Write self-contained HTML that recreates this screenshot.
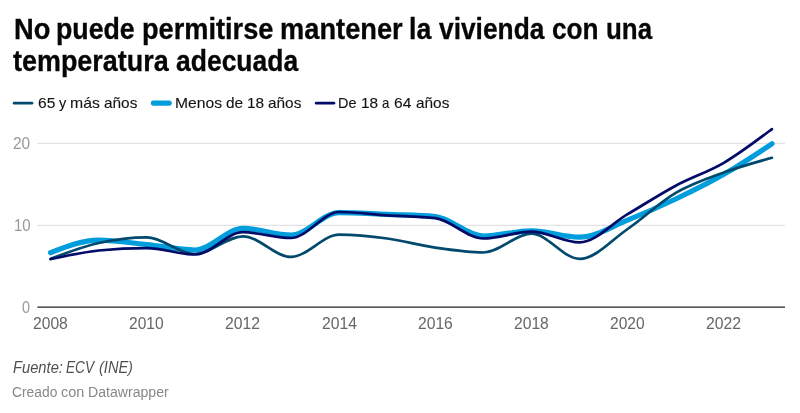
<!DOCTYPE html>
<html lang="es">
<head>
<meta charset="utf-8">
<title>No puede permitirse mantener la vivienda con una temperatura adecuada</title>
<style>
html,body{margin:0;padding:0;background:#fff;}
body{width:800px;height:413px;position:relative;overflow:hidden;font-family:"Liberation Sans",sans-serif;color:#181818;}
.w{position:absolute;left:0;white-space:nowrap;line-height:1;display:block;width:800px;height:0;}
.w span{position:absolute;top:0;transform-origin:0 0;}
h1{margin:0;font-size:28.8px;font-weight:bold;color:#060606;-webkit-text-stroke:0.3px #060606;}
.leg{font-size:15.55px;color:#141414;-webkit-text-stroke:0.12px #141414;}
.src{font-size:15.6px;font-style:italic;color:#505050;}
.by{font-size:14.25px;color:#888;}
.yl{font-size:15.9px;color:#999;}
.xl{font-size:15.9px;color:#666;}
svg{position:absolute;left:0;top:0;}
</style>
</head>
<body>
<h1>
<span class="w tt" style="top:15.02px"><span style="left:13.50px;transform:scaleX(0.9466)">No</span> <span style="left:56.15px;transform:scaleX(0.9285)">puede</span> <span style="left:141.60px;transform:scaleX(0.9439)">permitirse</span> <span style="left:279.74px;transform:scaleX(0.9466)">mantener</span> <span style="left:408.97px;transform:scaleX(0.9284)">la</span> <span style="left:439.04px;transform:scaleX(0.9142)">vivienda</span> <span style="left:552.24px;transform:scaleX(0.9102)">con</span> <span style="left:606.01px;transform:scaleX(0.9008)">una</span></span>
<span class="w tt" style="top:47.02px"><span style="left:13.00px;transform:scaleX(0.9349)">temperatura</span> <span style="left:176.16px;transform:scaleX(0.9196)">adecuada</span></span>
</h1>
<div class="w leg" style="top:94.94px"><span style="left:37.77px;transform:scaleX(1.0031)">65</span> <span style="left:58.81px;transform:scaleX(0.9350)">y</span> <span style="left:69.98px;transform:scaleX(1.0150)">más</span> <span style="left:104.13px;transform:scaleX(0.9891)">años</span></div>
<div class="w leg" style="top:94.94px"><span style="left:174.78px;transform:scaleX(1.0064)">Menos</span> <span style="left:225.85px;transform:scaleX(0.9905)">de</span> <span style="left:246.92px;transform:scaleX(0.9883)">18</span> <span style="left:268.21px;transform:scaleX(0.9896)">años</span></div>
<div class="w leg" style="top:94.94px"><span style="left:338.37px;transform:scaleX(0.9273)">De</span> <span style="left:360.79px;transform:scaleX(0.9878)">18</span> <span style="left:382.13px;transform:scaleX(0.8507)">a</span> <span style="left:394.34px;transform:scaleX(1.0030)">64</span> <span style="left:415.63px;transform:scaleX(0.9891)">años</span></div>
<div class="w yl" style="top:136.14px"><span style="left:13.15px;transform:scaleX(0.9740)">20</span></div>
<div class="w yl" style="top:218.14px"><span style="left:13.65px;transform:scaleX(0.9446)">10</span></div>
<div class="w yl" style="top:299.94px"><span style="left:22.32px;transform:scaleX(0.9080)">0</span></div>
<div class="w xl" style="top:316.14px"><span style="left:33.04px;transform:scaleX(0.9836)">2008</span></div>
<div class="w xl" style="top:316.14px"><span style="left:129.21px;transform:scaleX(0.9765)">2010</span></div>
<div class="w xl" style="top:316.14px"><span style="left:225.37px;transform:scaleX(0.9907)">2012</span></div>
<div class="w xl" style="top:316.14px"><span style="left:321.54px;transform:scaleX(0.9905)">2014</span></div>
<div class="w xl" style="top:316.14px"><span style="left:417.72px;transform:scaleX(0.9836)">2016</span></div>
<div class="w xl" style="top:316.14px"><span style="left:513.89px;transform:scaleX(0.9836)">2018</span></div>
<div class="w xl" style="top:316.14px"><span style="left:610.06px;transform:scaleX(0.9765)">2020</span></div>
<div class="w xl" style="top:316.14px"><span style="left:706.22px;transform:scaleX(0.9907)">2022</span></div>
<svg width="800" height="413" viewBox="0 0 800 413">
<g stroke-linecap="round" fill="none">
<line x1="14.15" y1="103.2" x2="31.95" y2="103.2" stroke="#014a6e" stroke-width="2.7"/>
<line x1="153.4" y1="103.05" x2="169.2" y2="103.05" stroke="#019ddc" stroke-width="5.2"/>
<line x1="316.2" y1="103.2" x2="333.9" y2="103.2" stroke="#020b68" stroke-width="2.7"/>
</g>
<g stroke="#e2e2e2" stroke-width="1.25">
<line x1="37.6" y1="143.3" x2="785" y2="143.3"/>
<line x1="37.6" y1="225.3" x2="785" y2="225.3"/>
</g>
<line x1="37.4" y1="307.1" x2="785" y2="307.1" stroke="#222" stroke-width="1.4"/>
<g fill="none" stroke-linecap="round" stroke-linejoin="round">
<path d="M50.6,252.7C66.6,246.4,82.7,240.1,98.7,240.1C114.7,240.1,130.7,242.9,146.8,244.6C162.8,246.2,178.8,250.0,194.9,250.0C210.9,250.0,226.9,228.4,242.9,228.4C259.0,228.4,275.0,235.0,291.0,235.0C307.1,235.0,323.1,212.6,339.1,212.6C355.1,212.6,371.2,213.8,387.2,214.4C403.2,215.1,419.3,215.1,435.3,216.5C451.3,217.9,467.3,236.0,483.4,236.0C499.4,236.0,515.4,230.8,531.5,230.8C547.5,230.8,563.5,237.2,579.5,237.2C595.6,237.2,611.6,226.5,627.6,220.1C643.6,213.7,659.7,206.6,675.7,199.0C691.7,191.4,707.8,183.5,723.8,174.3C739.8,165.1,755.8,154.5,771.9,143.8" stroke="#019ddc" stroke-width="5.2"/>
<path d="M50.6,258.8C66.6,252.7,82.7,246.6,98.7,243.0C114.7,239.4,130.7,237.4,146.8,237.4C162.8,237.4,178.8,254.0,194.9,254.0C210.9,254.0,226.9,236.3,242.9,236.3C259.0,236.3,275.0,256.9,291.0,256.9C307.1,256.9,323.1,234.7,339.1,234.7C355.1,234.7,371.2,236.3,387.2,238.5C403.2,240.7,419.3,245.4,435.3,247.7C451.3,250.0,467.3,252.5,483.4,252.5C499.4,252.5,515.4,233.7,531.5,233.7C547.5,233.7,563.5,258.9,579.5,258.9C595.6,258.9,611.6,240.0,627.6,229.0C643.6,218.0,659.7,202.3,675.7,192.9C691.7,183.5,707.8,178.3,723.8,172.5C739.8,166.7,755.8,162.2,771.9,157.8" stroke="#014a6e" stroke-width="2.7"/>
<path d="M50.6,259.2C66.6,255.7,82.7,252.1,98.7,250.5C114.7,248.9,130.7,248.1,146.8,248.1C162.8,248.1,178.8,254.5,194.9,254.5C210.9,254.5,226.9,232.2,242.9,232.2C259.0,232.2,275.0,238.0,291.0,238.0C307.1,238.0,323.1,212.0,339.1,212.0C355.1,212.0,371.2,214.3,387.2,215.3C403.2,216.3,419.3,216.3,435.3,218.2C451.3,220.1,467.3,238.5,483.4,238.5C499.4,238.5,515.4,231.6,531.5,231.6C547.5,231.6,563.5,242.4,579.5,242.4C595.6,242.4,611.6,223.6,627.6,214.2C643.6,204.7,659.7,194.3,675.7,185.7C691.7,177.1,707.8,172.2,723.8,162.8C739.8,153.4,755.8,141.2,771.9,129.1" stroke="#020b68" stroke-width="2.7"/>
</g>
</svg>
<div class="w src" style="top:359.79px"><span style="left:12.77px;transform:scaleX(0.9437)">Fuente:</span> <span style="left:66.49px;transform:scaleX(0.8773)">ECV</span> <span style="left:98.58px;transform:scaleX(0.9322)">(INE)</span></div>
<div class="w by" style="top:384.74px"><span style="left:12.35px;transform:scaleX(0.9701)">Creado</span> <span style="left:61.21px;transform:scaleX(1.0124)">con</span> <span style="left:88.16px;transform:scaleX(0.9887)">Datawrapper</span></div>
</body>
</html>
